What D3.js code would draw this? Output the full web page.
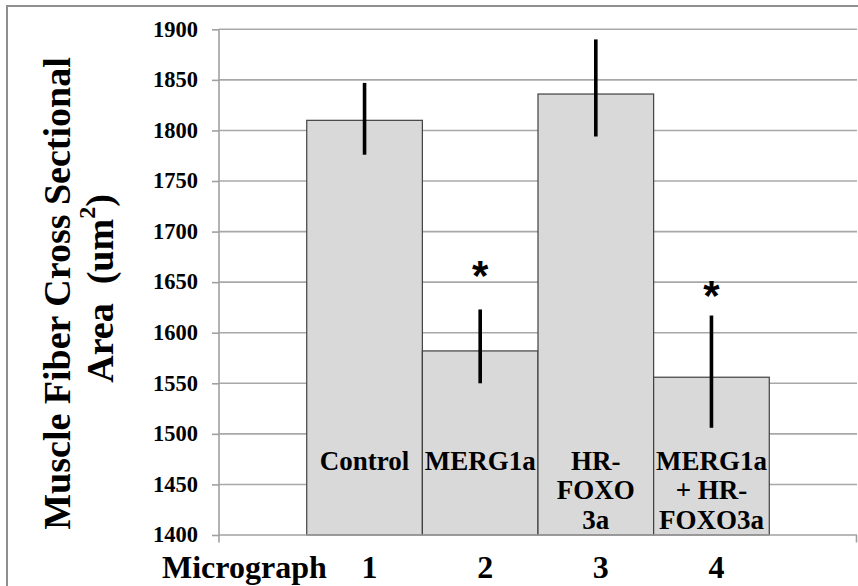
<!DOCTYPE html>
<html><head><meta charset="utf-8">
<script src="https://cdn.jsdelivr.net/npm/d3@7/dist/d3.min.js"></script>
<style>
body{margin:0;background:#fff;}
svg{display:block;}
text{font-family:"Liberation Serif","Times New Roman",serif;font-weight:bold;fill:#000;}
</style>
</head><body>
<svg id="chart" width="858" height="586"></svg>
<script>
// ---- data ----
const categories = ["1", "2", "3", "4"];
const barLabels = [["Control"], ["MERG1a"], ["HR-", "FOXO", "3a"], ["MERG1a", "+ HR-", "FOXO3a"]];
const means = [1810, 1582, 1836, 1556];
const errUpper = [1847, 1623, 1890, 1617];
const errLower = [1776, 1550, 1794, 1506];
const sigMarks = ["", "*", "", "*"];
const sigLevel = [null, 1662, null, 1642];
const yTicks = [1400, 1450, 1500, 1550, 1600, 1650, 1700, 1750, 1800, 1850, 1900];
const yTitleLine1 = "Muscle Fiber Cross Sectional";
const yTitleLine2 = "Area  (um";
const yTitleSup = "2";
const xTitle = "Micrograph";

// ---- layout ----
const svg = d3.select("#chart");
const pLeft = 219, pRight = 857, pTop = 29.3, pBottom = 535;

// outer border
svg.append("rect").attr("x", 7).attr("y", 6).attr("width", 900).attr("height", 700)
  .attr("fill", "#fff").attr("stroke", "#8f8f8f").attr("stroke-width", 2);

const y = d3.scaleLinear().domain([1400, 1900]).range([pBottom, pTop]);
const x = d3.scaleBand().domain(categories).range([pLeft, pRight])
  .paddingInner(0).paddingOuter(0.7587);

// gridlines
svg.append("g").selectAll("line").data(yTicks.slice(1)).join("line")
  .attr("x1", pLeft).attr("x2", pRight)
  .attr("y1", d => y(d)).attr("y2", d => y(d))
  .attr("stroke", "#a8a8a8").attr("stroke-width", 1.6);

// y axis
const yAxis = d3.axisLeft(y).tickValues(yTicks).tickSize(7).tickPadding(14).tickFormat(d3.format("d"));
const gy = svg.append("g").attr("transform", `translate(${pLeft},0)`).call(yAxis);
gy.attr("font-family", null).attr("font-size", null);
gy.select(".domain").remove();
gy.selectAll(".tick line").attr("stroke", "#a0a0a0").attr("stroke-width", 1.6);
gy.selectAll(".tick text").attr("font-size", 22.5).attr("fill", "#000")
  .style("font-family", '"Liberation Serif", serif').style("font-weight", "bold").attr("dy", "0.3em");
svg.append("line").attr("x1", pLeft).attr("x2", pLeft).attr("y1", pTop).attr("y2", pBottom + 7.5)
  .attr("stroke", "#a0a0a0").attr("stroke-width", 1.6);

// bars
svg.append("g").selectAll("rect").data(means).join("rect")
  .attr("x", (d, i) => x(categories[i]))
  .attr("y", d => y(d))
  .attr("width", x.bandwidth())
  .attr("height", d => pBottom - y(d))
  .attr("fill", "#d9d9d9").attr("stroke", "#404040").attr("stroke-width", 1.2);

// x axis
const xAxis = d3.axisBottom(x).tickSize(0).tickFormat("");
const gx = svg.append("g").attr("transform", `translate(0,${pBottom})`).call(xAxis);
gx.select(".domain").remove();
svg.append("line").attr("x1", pLeft).attr("x2", pRight).attr("y1", pBottom).attr("y2", pBottom)
  .attr("stroke", "#a0a0a0").attr("stroke-width", 1.6);
svg.append("line").attr("x1", pRight - 0.5).attr("x2", pRight - 0.5).attr("y1", pBottom).attr("y2", pBottom + 7.5)
  .attr("stroke", "#a0a0a0").attr("stroke-width", 1.6);

// error bars
svg.append("g").selectAll("line").data(means).join("line")
  .attr("x1", (d, i) => x(categories[i]) + x.bandwidth() / 2)
  .attr("x2", (d, i) => x(categories[i]) + x.bandwidth() / 2)
  .attr("y1", (d, i) => y(errUpper[i]))
  .attr("y2", (d, i) => y(errLower[i]))
  .attr("stroke", "#000").attr("stroke-width", 3.6);

// significance marks
svg.append("g").selectAll("text").data(sigMarks.map((s, i) => ({s, i})).filter(d => d.s))
  .join("text")
  .attr("x", d => x(categories[d.i]) + x.bandwidth() / 2)
  .attr("y", d => y(sigLevel[d.i]) + 20)
  .attr("text-anchor", "middle")
  .style("font-family", '"Liberation Sans", Arial, sans-serif')
  .attr("font-size", 42)
  .text(d => d.s);

// bar labels
const lab = svg.append("g").selectAll("text").data(barLabels).join("text")
  .attr("text-anchor", "middle").attr("font-size", 27);
lab.each(function(lines, i) {
  const cx = x(categories[i]) + x.bandwidth() / 2;
  d3.select(this).selectAll("tspan").data(lines).join("tspan")
    .attr("x", cx).attr("y", (l, j) => 469.5 + j * 29.5)
    .style("white-space", "pre")
    .text(l => l);
});

// category numbers
svg.append("g").selectAll("text").data(categories).join("text")
  .attr("x", d => x(d) + x.bandwidth() / 2 + 5)
  .attr("y", 578)
  .attr("text-anchor", "middle").attr("font-size", 32)
  .text(d => d);

// x title
svg.append("text").attr("x", 162).attr("y", 578).attr("font-size", 32).text(xTitle);

// y title
svg.append("text").attr("transform", "translate(70,293.5) rotate(-90)")
  .attr("text-anchor", "middle").attr("font-size", 38).text(yTitleLine1);
const t2 = svg.append("text").attr("transform", "translate(113,288.5) rotate(-90)")
  .attr("text-anchor", "middle").attr("font-size", 38).style("white-space", "pre");
t2.append("tspan").text(yTitleLine2);
t2.append("tspan").attr("font-size", 24).attr("dy", "-0.75em").text(yTitleSup);
t2.append("tspan").attr("dy", "0.45em").text(")");
</script>
</body></html>
